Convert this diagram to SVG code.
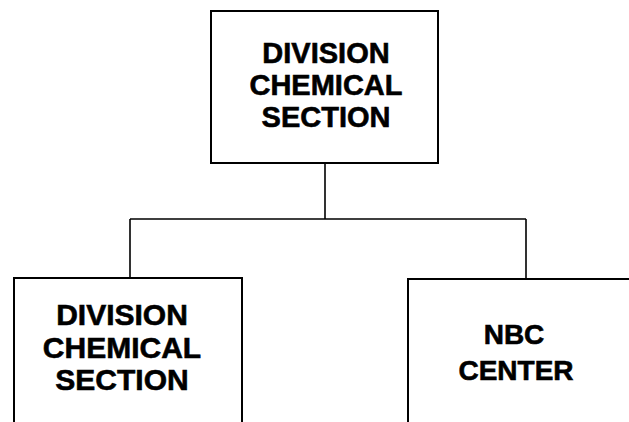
<svg xmlns="http://www.w3.org/2000/svg" width="629" height="422" viewBox="0 0 629 422">
<style>
.box{fill:#fff;stroke:#000;stroke-width:2}
.lbl{font-family:"Liberation Sans",Arial,sans-serif;font-weight:bold;text-anchor:middle;fill:#000;stroke:#000;stroke-width:0.6}
.conn{fill:none;stroke:#000;stroke-width:1.6}
</style>
<rect width="629" height="422" fill="#fff"/>
<g id="connectors">
<path class="conn" d="M325 163 V219 M130 219 H526 M130 219 V278 M526 219 V279"/>
</g>
<g id="top">
<rect class="box" x="211" y="11" width="227" height="152"/>
<text class="lbl" font-size="29" x="326" y="63">DIVISION</text>
<text class="lbl" font-size="29" x="326" y="95">CHEMICAL</text>
<text class="lbl" font-size="29" x="326" y="127">SECTION</text>
</g>
<g id="left">
<rect class="box" x="14" y="278" width="228" height="160"/>
<text class="lbl" font-size="30" x="122" y="325">DIVISION</text>
<text class="lbl" font-size="30" x="122" y="358">CHEMICAL</text>
<text class="lbl" font-size="30" x="122" y="390">SECTION</text>
</g>
<g id="right">
<rect class="box" x="408" y="279" width="240" height="160"/>
<text class="lbl" font-size="28" x="514" y="344">NBC</text>
<text class="lbl" font-size="28" x="516" y="380">CENTER</text>
</g>
</svg>
